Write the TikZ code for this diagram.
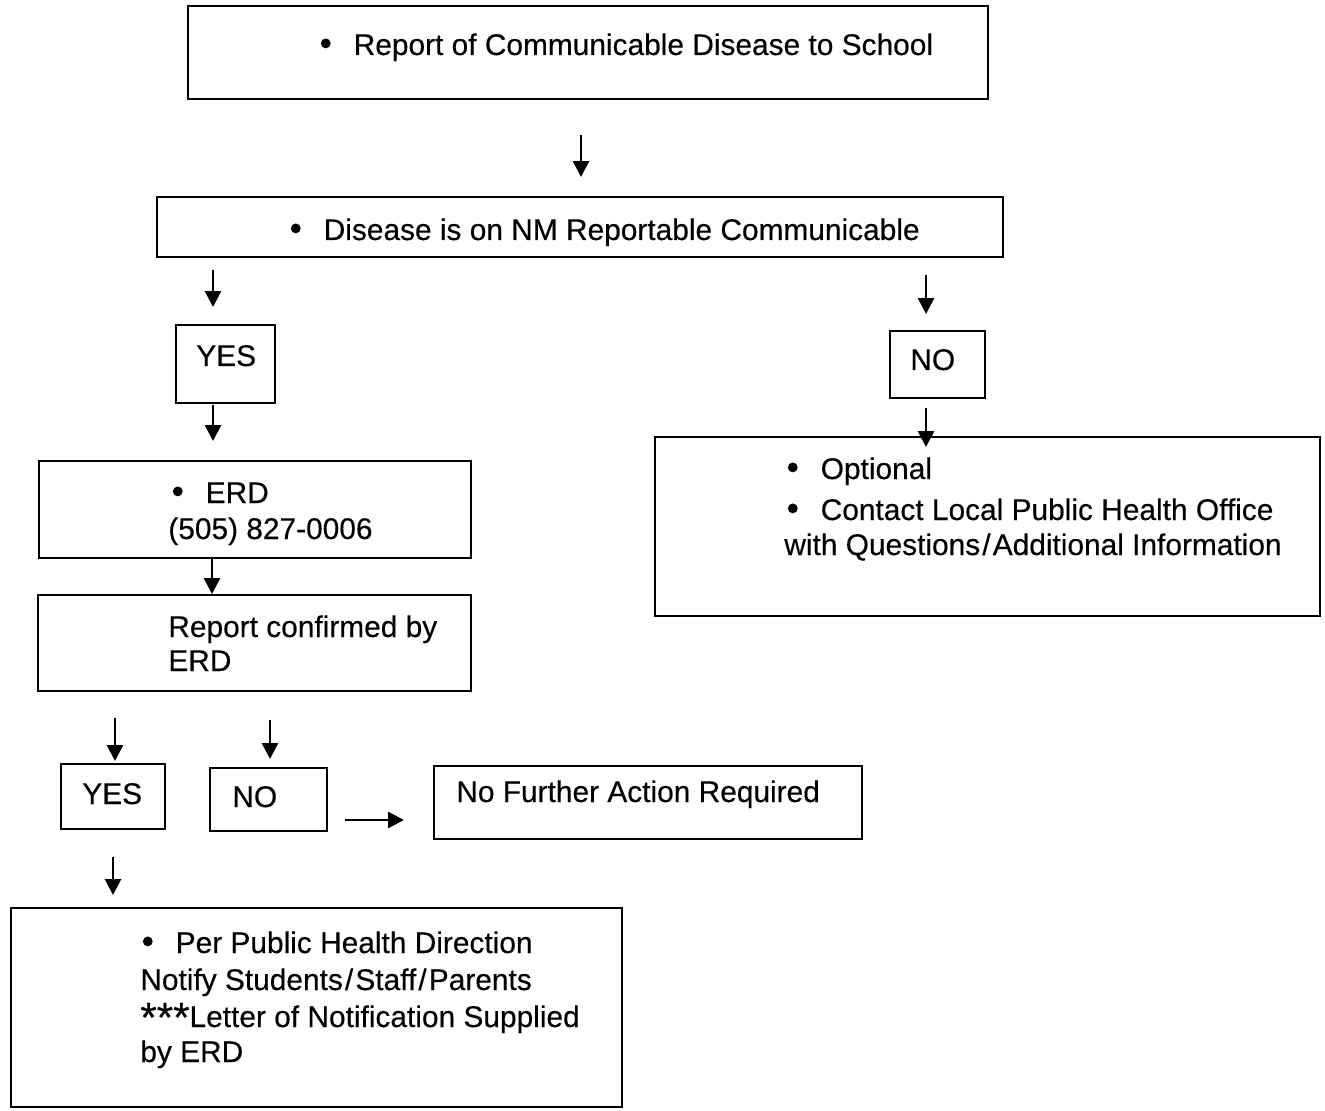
\documentclass[tikz,border=0pt]{standalone}
\usepackage{fontspec}
\setmainfont{Liberation Sans}[FakeBold=0.3]
\usetikzlibrary{arrows.meta,fit}
\newcommand\bul{\makebox[19pt][l]{\hspace{0.3pt}\tikz[baseline=-6.6pt]\fill (0,0) circle (2.8pt);}}
\newcommand\stars{\smash{\raisebox{-2.8pt}{\fontsize{24}{24}\selectfont***}}}
\newcommand\slsh{\hspace{1.2pt}/\hspace{1.2pt}}
\tikzset{
  x=0.02cm, y=-0.02cm,
  box/.style={draw, line width=1.5pt, inner sep=0pt},
  txt/.style={anchor=base west, inner sep=0pt, font=\fontsize{17}{20}\selectfont, align=left},
  arr/.style={line width=1.6pt, -{Triangle[length=9pt,width=9pt]}}
}
\begin{document}
\begin{tikzpicture}
\useasboundingbox (0,0) rectangle (1325,1111);
% boxes
\node[box, fit={(188,6) (988,99)}] (b1) {};
\node[box, fit={(157,197) (1003,257)}] (b2) {};
\node[box, fit={(176,325) (275,403)}] (yes1) {};
\node[box, fit={(890,331) (985,398)}] (no1) {};
\node[box, fit={(39,461) (471,558)}] (erd) {};
\node[box, fit={(38,595) (471,691)}] (conf) {};
\node[box, fit={(655,437) (1320,616)}] (opt) {};
\node[box, fit={(61,764) (165,829)}] (yes2) {};
\node[box, fit={(210,768) (327,831)}] (no2) {};
\node[box, fit={(434,766) (862,839)}] (nfa) {};
\node[box, fit={(11,908) (622,1107)}] (notify) {};
% texts
\node[txt] (t1) at (320,55) {\bul Report of Communicable Disease to School};
\node[txt] (t2) at (290,240) {\bul Disease is on NM Reportable Communicable};
\node[txt] (t3) at (196,366) {YES};
\node[txt] (t4) at (910,370) {NO};
\node[txt] (t5) at (172,503) {\bul ERD};
\node[txt] (t6) at (168,539) {(505) 827-0006};
\node[txt] (t7) at (168,637) {Report confirmed by};
\node[txt] (t8) at (168,671) {ERD};
\node[txt] (t9) at (787,479) {\bul Optional};
\node[txt] (t10) at (787,520) {\bul Contact Local Public Health Office};
\node[txt] (t11) at (784,555) {with Questions\slsh Additional Information};
\node[txt] (t12) at (82,804) {YES};
\node[txt] (t13) at (232,807) {NO};
\node[txt] (t14) at (456,802) {No Further Action Required};
\node[txt] (t15) at (142,953) {\bul Per Public Health Direction};
\node[txt] (t16) at (140,990) {Notify Students\slsh Staff\slsh Parents};
\node[txt] (t17) at (140,1027) {\stars Letter of Notification Supplied};
\node[txt] (t18) at (140,1062) {by ERD};
% arrow end points
\coordinate (a1s) at (581,135); \coordinate (a1e) at (581,177);
\coordinate (a2s) at (213,270); \coordinate (a2e) at (213,307);
\coordinate (a3s) at (926,275); \coordinate (a3e) at (926,314);
\coordinate (a4s) at (213,405); \coordinate (a4e) at (213,441);
\coordinate (a5s) at (212,558); \coordinate (a5e) at (212,594);
\coordinate (a6s) at (926,408); \coordinate (a6e) at (926,447);
\coordinate (a7s) at (115,718); \coordinate (a7e) at (115,761);
\coordinate (a8s) at (270,720); \coordinate (a8e) at (270,759);
\coordinate (a9s) at (345,820); \coordinate (a9e) at (404,820);
\coordinate (a10s) at (113,857); \coordinate (a10e) at (113,895);
\foreach \i in {1,...,10} \draw[arr] (a\i s) -- (a\i e);
\end{tikzpicture}
\end{document}
